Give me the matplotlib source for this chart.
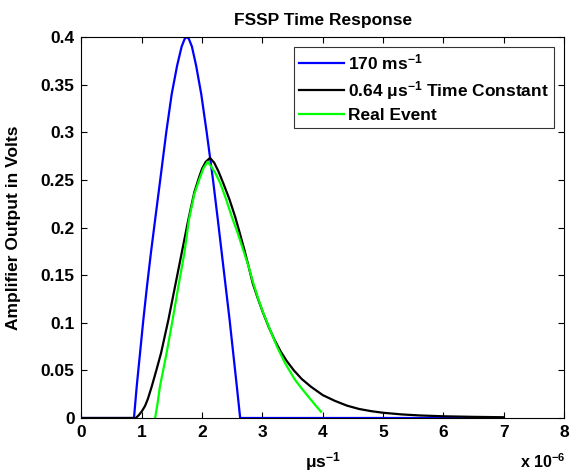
import matplotlib
matplotlib.use('Agg')
from matplotlib import pyplot as plt
from matplotlib.ticker import FormatStrFormatter

plt.rcParams['font.family'] = ['Liberation Sans', 'DejaVu Sans']
plt.rcParams['font.weight'] = 'bold'
plt.rcParams['mathtext.fontset'] = 'custom'
plt.rcParams['mathtext.rm'] = 'Liberation Sans:bold'
plt.rcParams['mathtext.bf'] = 'Liberation Sans:bold'
plt.rcParams['mathtext.default'] = 'bf'

# time in units of 1e-6 s, amplitude in volts
blue_t = [0, 0.87, 0.915, 0.97, 1.025, 1.085, 1.15, 1.22, 1.305, 1.405, 1.495, 1.585,
          1.66, 1.71, 1.745, 1.78, 1.83, 1.90, 1.985, 2.075, 2.18, 2.26, 2.325, 2.39,
          2.455, 2.515, 2.575, 2.63, 7.0]
blue_v = [0, 0, 0.033, 0.068, 0.103, 0.138, 0.173, 0.208, 0.25, 0.30, 0.34, 0.37,
          0.39, 0.398, 0.4, 0.398, 0.39, 0.37, 0.34, 0.30, 0.25, 0.208, 0.173, 0.138,
          0.103, 0.068, 0.033, 0, 0]

black_t = [0, 0.9, 0.95, 1.0, 1.053, 1.1, 1.164, 1.24, 1.318, 1.44, 1.55, 1.66, 1.77,
           1.87, 1.95, 2.0, 2.06, 2.13, 2.2, 2.27, 2.35, 2.45, 2.546, 2.62, 2.70, 2.77,
           2.84, 2.92, 3.0, 3.1, 3.2, 3.3, 3.4, 3.52, 3.65, 3.8, 4.0, 4.2, 4.4, 4.6,
           4.8, 5.0, 5.3, 5.6, 6.0, 6.5, 7.0]
black_v = [0, 0, 0.003, 0.007, 0.0126, 0.02, 0.033, 0.05, 0.068, 0.103, 0.138, 0.173, 0.208,
           0.237, 0.253, 0.262, 0.269, 0.273, 0.268, 0.259, 0.2465, 0.23, 0.2115, 0.195,
           0.1765, 0.159, 0.141, 0.126, 0.112, 0.096, 0.082, 0.07, 0.06, 0.05, 0.041,
           0.033, 0.024, 0.018, 0.013, 0.0095, 0.0072, 0.0055, 0.0038, 0.0027, 0.0018,
           0.0012, 0.0008]

green_t = [1.22, 1.26, 1.30, 1.41, 1.51, 1.605, 1.705, 1.78, 1.87, 1.95, 2.02, 2.09, 2.15,
           2.22, 2.30, 2.40, 2.49, 2.59, 2.68, 2.77, 2.85, 2.93, 3.015, 3.13, 3.24, 3.375,
           3.54, 3.65, 3.76, 3.87, 3.97]
green_v = [0, 0.015, 0.033, 0.068, 0.103, 0.138, 0.173, 0.208, 0.235, 0.25, 0.262, 0.269,
           0.264, 0.257, 0.2465, 0.229, 0.2115, 0.194, 0.1765, 0.159, 0.141, 0.125, 0.11,
           0.092, 0.075, 0.0574, 0.04, 0.031, 0.0224, 0.014, 0.0066]

labels = ['170 ms$^{-1}$', '0.64 $\\mu$s$^{-1}$ Time Constant', 'Real Event']

fs = 12.5
fig = plt.figure(figsize=(5.78, 4.72), dpi=100)
ax = fig.add_axes([0.141, 0.1144, 0.835, 0.8072])

ax.plot(blue_t, blue_v, color='#0000ff', lw=1.6, label=labels[0])
ax.plot(black_t, black_v, color='black', lw=1.6, label=labels[1])
ax.plot(green_t, green_v, color='#00ff00', lw=1.6, label=labels[2])

ax.set_xlim(0, 8)
ax.set_ylim(0, 0.4)
ax.set_xticks(range(0, 9))
ax.set_yticks([0, 0.05, 0.1, 0.15, 0.2, 0.25, 0.3, 0.35, 0.4])
ax.yaxis.set_major_formatter(FormatStrFormatter('%g'))
ax.tick_params(direction='in', top=True, right=True, labelsize=fs, length=4, pad=5)
for lab in ax.get_xticklabels() + ax.get_yticklabels():
    lab.set_fontweight('bold')

ax.set_title('FSSP Time Response', fontsize=fs, fontweight='bold', pad=9)
ax.set_ylabel('Amplifier Output in Volts', fontsize=fs, fontweight='bold')
ax.yaxis.set_label_coords(-0.125, 0.5)
ax.set_xlabel('$\\mu$s$^{-1}$', fontsize=fs, fontweight='bold')
ax.xaxis.set_label_coords(0.5, -0.085)
fig.text(0.9, 0.008, 'x 10$^{-6}$', fontsize=fs - 1, fontweight='bold')

leg = ax.legend(loc='upper right', fontsize=fs, frameon=True, fancybox=False,
                edgecolor='black', handlelength=2.6, borderpad=0.3, labelspacing=0.35,
                borderaxespad=0.6, handletextpad=0.2)
leg.get_frame().set_linewidth(0.8)

fig.savefig('out.png', dpi=100)
